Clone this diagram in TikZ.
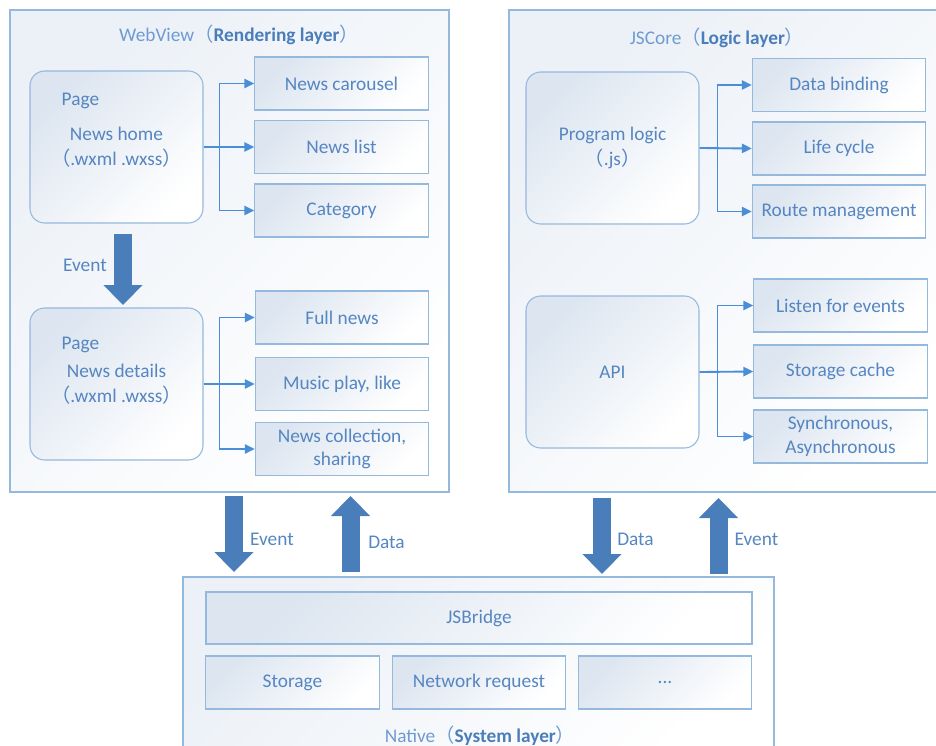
\documentclass[tikz,border=0pt]{standalone}
\usepackage{fontspec}
\setmainfont{Carlito}
\newfontfamily\cjk{Noto Sans CJK SC}
\usetikzlibrary{arrows.meta}
\definecolor{boxline}{HTML}{95B8DD}
\definecolor{boxtext}{HTML}{5586C2}
\definecolor{titletext}{HTML}{6E9BD3}
\definecolor{boxshade}{HTML}{DCE5F0}
\definecolor{fatblue}{HTML}{4A7EBA}
\definecolor{linkblue}{HTML}{4A8ED8}
\newcommand{\fwl}{{\cjk （}}
\newcommand{\fwr}{{\cjk ）}}

\begin{document}
\begin{tikzpicture}[x=0.75pt,y=-0.75pt,
  font=\fontsize{14.5}{17.5}\selectfont, text=boxtext,
  layer/.style={draw=boxline, line width=0.8pt, shade, top color=boxshade!55, bottom color=white, shading angle=45, inner sep=0pt},
  pagebox/.style={draw=boxline, line width=0.8pt, rounded corners=11pt, shade, top color=boxshade, bottom color=white, shading angle=45, minimum width=129.75pt, minimum height=114pt, align=center, inner sep=0pt, font=\fontsize{14.5}{19}\selectfont},
  part/.style={draw=boxline, line width=0.8pt, shade, top color=boxshade, bottom color=white, shading angle=45, minimum width=130pt, minimum height=39.75pt, align=center, inner sep=0pt},
  link/.style={draw=linkblue, line width=1.4pt, -{Triangle[length=7.5pt,width=7pt]}},
  fat/.style={draw=fatblue, line width=13.5pt, -{Triangle[length=15pt,width=28.5pt]}},
]
\useasboundingbox (0,0) rectangle (936,746);
\clip (0,0) rectangle (936,746);

% layers
\node[layer, minimum width=329.25pt, minimum height=361.5pt] (web) at (229.5,251) {};
\node[layer, minimum width=327pt, minimum height=361.5pt] (core) at (727,251) {};
\node[layer, minimum width=443.25pt, minimum height=137.25pt] (native) at (478.5,668.5) {};
\node[text=titletext] (webtitle) at (239,35) {WebView\fwl\textcolor{fatblue}{\textbf{Rendering layer}}\fwr};
\node[text=titletext] (coretitle) at (717,38) {JSCore\fwl\textcolor{fatblue}{\textbf{Logic layer}}\fwr};
\node[text=titletext] (nativetitle) at (480,736) {Native\fwl\textcolor{fatblue}{\textbf{System layer}}\fwr};

% rendering layer
\node[pagebox] (home) at (116.5,147) {News home\\\fwl.wxml .wxss\fwr};
\node[anchor=west] (homepage) at (57,101) {Page};
\node[part] (w1) at (341.5,83.5) {News carousel};
\node[part] (w2) at (341.5,147) {News list};
\node[part] (w3) at (341.5,210.5) {Category};
\draw[link] (home.east) -- ++(16,0) |- (w1.west);
\draw[link] (home.east) -- (w2.west);
\draw[link] (home.east) -- ++(16,0) |- (w3.west);

\node[pagebox] (details) at (116.5,384) {News details\\\fwl.wxml .wxss\fwr};
\node[anchor=west] (detailspage) at (57,345) {Page};
\node[part] (w4) at (342,317.5) {Full news};
\node[part] (w5) at (342,384) {Music play, like};
\node[part] (w6) at (342,449) {News collection,\\sharing};
\draw[link] (details.east) -- ++(16,0) |- (w4.west);
\draw[link] (details.east) -- (w5.west);
\draw[link] (details.east) -- ++(16,0) |- (w6.west);

\coordinate (ev0a) at (123,234);
\coordinate (ev0b) at (123,305);
\draw[fat] (ev0a) -- (ev0b);
\node (ev0) at (85,265) {Event};

% logic layer
\node[pagebox] (logic) at (612.5,148) {Program logic\\\fwl.js\fwr};
\node[part] (j1) at (839,85) {Data binding};
\node[part] (j2) at (839,148.5) {Life cycle};
\node[part] (j3) at (839,211.5) {Route management};
\draw[link] (logic.east) -- ++(18,0) |- (j1.west);
\draw[link] (logic.east) -- (j2.west);
\draw[link] (logic.east) -- ++(18,0) |- (j3.west);

\node[pagebox] (api) at (612.5,372) {API};
\node[part] (j4) at (840.5,305.5) {Listen for events};
\node[part] (j5) at (840.5,371.5) {Storage cache};
\node[part] (j6) at (840.5,436.5) {Synchronous,\\Asynchronous};
\draw[link] (api.east) -- ++(18,0) |- (j4.west);
\draw[link] (api.east) -- (j5.west);
\draw[link] (api.east) -- ++(18,0) |- (j6.west);

% system layer
\node[part, minimum width=409.5pt, minimum height=39pt] (bridge) at (479,618) {JSBridge};
\node[part] (n1) at (292.5,682.5) {Storage};
\node[part] (n2) at (479,682.5) {Network request};
\node[part] (n3) at (665,682.5) {...};

% traffic between layers
\coordinate (ev1a) at (234,496);
\coordinate (ev1b) at (234,572);
\coordinate (da1a) at (350.5,572);
\coordinate (da1b) at (350.5,496);
\coordinate (da2a) at (602,498);
\coordinate (da2b) at (602,574);
\coordinate (ev2a) at (718.5,574);
\coordinate (ev2b) at (718.5,498);
\draw[fat] (ev1a) -- (ev1b);
\draw[fat] (da1a) -- (da1b);
\draw[fat] (da2a) -- (da2b);
\draw[fat] (ev2a) -- (ev2b);
\node (ev1) at (272,539) {Event};
\node (da1) at (386.5,542) {Data};
\node (da2) at (635.5,539) {Data};
\node (ev2) at (756.5,539) {Event};
\end{tikzpicture}
\end{document}
